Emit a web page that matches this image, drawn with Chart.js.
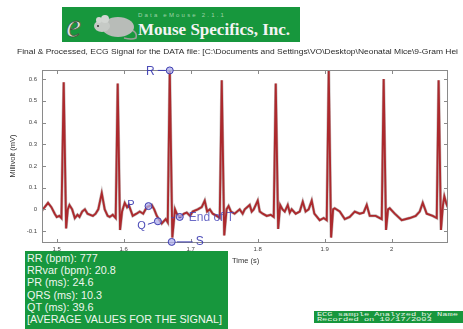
<!DOCTYPE html>
<html>
<head>
<meta charset="utf-8">
<script src="https://cdn.jsdelivr.net/npm/chart.js@4/dist/chart.umd.min.js"></script>
<style>
  body { margin: 0; background: #fff; }
  #wrap { position: relative; width: 463px; height: 329px; overflow: hidden; font-family: Arial, "Liberation Sans", sans-serif; }
  #ecg { position: absolute; left: 0; top: 0; }
  .logo { position: absolute; left: 62px; top: 7px; width: 238px; height: 35px; background: #17973d; }
  .logo .ver { position: absolute; left: 76px; top: 5px; font-size: 6px; color: #9ed3a8; letter-spacing: 2.2px; white-space: nowrap; }
  .logo .name { position: absolute; left: 76px; top: 13px; font-family: "Liberation Serif", "DejaVu Serif", serif; font-size: 17px; font-weight: bold; color: #f4f4f4; white-space: nowrap; }
  .info { position: absolute; left: 25px; top: 251px; width: 203px; height: 80px; background: #17973d; color: #eef6ee; font-size: 10.8px; line-height: 12.2px; padding: 1px 0 0 2px; box-sizing: border-box; white-space: nowrap; }
  .stamp { position: absolute; left: 314px; top: 311px; width: 149px; height: 12px; background: #17973d; overflow: hidden; }
  .stamp div { color: #e8f4e8; font-family: "Liberation Mono", "DejaVu Sans Mono", monospace; font-size: 6px; line-height: 5.5px; padding: 0.5px 0 0 2px; white-space: nowrap; transform: scale(1.45, 1); transform-origin: left top; }
</style>
</head>
<body>
<div id="wrap">
  <canvas id="ecg" width="463" height="329"></canvas>
  <div class="logo">
    <svg width="80" height="35" style="position:absolute;left:0;top:0">
      <text x="4" y="30" font-family="Liberation Serif, serif" font-style="italic" font-size="34" fill="#dfe5df" stroke="#3d5a3d" stroke-width="0.8">e</text>
      <path d="M66 22 Q76 24 74 31 Q70 33 62 31" stroke="#9aa09a" stroke-width="1.5" fill="none"/>
      <ellipse cx="56" cy="20" rx="16" ry="10" fill="#b8bcb8"/>
      <ellipse cx="40" cy="19" rx="8" ry="6" fill="#c6cac6"/>
      <circle cx="43" cy="12" r="4" fill="#d2d6d2"/>
      <circle cx="37" cy="13" r="3" fill="#d2d6d2"/>
      <circle cx="36" cy="19" r="1" fill="#333"/>
    </svg>
    <div class="ver">Data eMouse 2.1.1</div>
    <div class="name">Mouse Specifics, Inc.</div>
  </div>
  <div class="info">
    RR (bpm): 777<br>
    RRvar (bpm): 20.8<br>
    PR (ms): 24.6<br>
    QRS (ms): 10.3<br>
    QT (ms): 39.6<br>
    [AVERAGE VALUES FOR THE SIGNAL]
  </div>
  <div class="stamp"><div>ECG sample Analyzed by Name<br>Recorded on 10/17/2003</div></div>
</div>
<script>
// ECG trace: time (s) and signal (mV)
const times = [
  1.478, 1.482, 1.487, 1.492, 1.497, 1.500, 1.504, 1.507,
  1.5104, 1.514, 1.5165, 1.519, 1.523, 1.527, 1.531, 1.534, 1.538, 1.542, 1.546, 1.550, 1.554, 1.558, 1.562, 1.5672, 1.5716, 1.576, 1.5791, 1.5836, 1.588,
  1.591, 1.5945, 1.5975, 1.6015, 1.605, 1.6075, 1.6134, 1.619, 1.6239, 1.629, 1.6343, 1.6418, 1.6455, 1.6493, 1.6567, 1.6627, 1.6657,
  1.6687, 1.6725, 1.6765, 1.6791, 1.6836, 1.690, 1.694, 1.699, 1.703, 1.7104, 1.7164, 1.7209, 1.7245, 1.7285, 1.7328, 1.7388, 1.7433,
  1.7463, 1.750, 1.7535, 1.7565, 1.760, 1.7655, 1.7731, 1.7775, 1.7806, 1.788, 1.791, 1.794, 1.800, 1.803, 1.8075, 1.8134, 1.8194, 1.8239,
  1.8269, 1.8305, 1.8335, 1.837, 1.8403, 1.8448, 1.8478, 1.8507, 1.8567, 1.8627, 1.8672, 1.8715, 1.876, 1.8806, 1.8845, 1.8925, 1.8985, 1.903,
  1.906, 1.9095, 1.9125, 1.9149, 1.9224, 1.9299, 1.9373, 1.9448, 1.9522, 1.958, 1.9627, 1.9672, 1.9761, 1.9851,
  1.988, 1.9915, 1.9945, 1.997, 2.0045, 2.0149, 2.0269, 2.0358, 2.0418, 2.0463, 2.0522, 2.0612, 2.0672,
  2.070, 2.0735, 2.0765, 2.0785, 2.0812, 2.0836
];
const millivolts = [
  -0.005, 0.01, 0.03, 0.01, -0.02, -0.035, -0.03, -0.04,
  0.586, -0.088, 0.00, 0.02, 0.00, -0.04, -0.025, -0.035, -0.01, 0.00, -0.02, -0.025, -0.03, -0.02, 0.00, 0.075, 0.00, -0.03, -0.035, -0.025, -0.04,
  0.58, -0.095, -0.01, 0.03, 0.01, 0.02, -0.03, -0.02, -0.01, -0.02, 0.01, 0.02, 0.00, -0.03, -0.065, -0.045, -0.06,
  0.64, -0.13, 0.00, -0.02, -0.035, -0.02, -0.015, -0.03, -0.01, 0.00, 0.01, 0.04, -0.01, 0.00, -0.02, -0.03, -0.04,
  0.595, -0.12, 0.00, 0.015, -0.01, -0.02, 0.00, -0.02, 0.00, 0.02, -0.01, 0.00, 0.04, -0.01, -0.02, -0.03, -0.025, -0.035,
  0.58, -0.09, 0.02, 0.00, -0.01, 0.02, -0.015, 0.00, -0.02, -0.01, 0.035, -0.01, 0.00, 0.04, -0.02, -0.05, -0.04, -0.05,
  0.64, -0.13, 0.00, 0.005, -0.01, -0.045, -0.035, -0.01, -0.02, -0.015, 0.02, -0.03, -0.03, -0.045,
  0.60, -0.095, 0.00, 0.005, -0.02, -0.05, -0.04, -0.03, -0.01, 0.03, -0.02, -0.03, -0.04,
  0.595, -0.095, 0.02, 0.06, 0.03, 0.01
];

const xTicks = [1.5, 1.6, 1.7, 1.8, 1.9, 2];
const yTicks = [-0.1, 0, 0.1, 0.2, 0.3, 0.4, 0.5, 0.6];

// wave point markers on the third beat
const markNames = ['R', 'P', 'Q', 'S', 'End of T'];
const markTimes = [1.6687, 1.637, 1.651, 1.6716, 1.6836];
const markValues = [0.64, 0.015, -0.055, -0.15, -0.035];

const titleText = 'Final & Processed, ECG Signal for the DATA file: [C:\\Documents and Settings\\VO\\Desktop\\Neonatal Mice\\9-Gram Hei';

const points = times.map((t, i) => ({ x: t, y: millivolts[i] }));

const decorations = {
  id: 'decorations',
  afterDatasetsDraw(chart) {
    const ctx = chart.ctx;
    const a = chart.chartArea;
    const xs = chart.scales.x, ys = chart.scales.y;
    ctx.save();
    // box and inward ticks
    ctx.strokeStyle = '#8a8a8a';
    ctx.lineWidth = 1;
    ctx.strokeRect(a.left + 0.5, a.top + 0.5, a.right - a.left - 1, a.bottom - a.top - 1);
    ctx.beginPath();
    xTicks.forEach(v => {
      const px = Math.round(xs.getPixelForValue(v)) + 0.5;
      ctx.moveTo(px, a.bottom); ctx.lineTo(px, a.bottom - 4);
      ctx.moveTo(px, a.top); ctx.lineTo(px, a.top + 4);
    });
    yTicks.forEach(v => {
      const py = Math.round(ys.getPixelForValue(v)) + 0.5;
      ctx.moveTo(a.left, py); ctx.lineTo(a.left + 4, py);
      ctx.moveTo(a.right, py); ctx.lineTo(a.right - 4, py);
    });
    ctx.stroke();

    // markers
    const mp = markNames.map((n, i) => ({ x: xs.getPixelForValue(markTimes[i]), y: ys.getPixelForValue(markValues[i]) }));
    ctx.fillStyle = 'rgba(175,175,235,0.75)';
    ctx.strokeStyle = '#3d3db0';
    mp.forEach(p => {
      ctx.beginPath(); ctx.arc(p.x, p.y, 3.5, 0, Math.PI * 2); ctx.fill(); ctx.stroke();
    });
    ctx.fillStyle = 'rgba(55,55,175,0.9)';
    ctx.textBaseline = 'middle';
    // R
    ctx.font = '12px Arial';
    ctx.textAlign = 'right';
    ctx.fillText(markNames[0], mp[0].x - 15, mp[0].y + 1);
    ctx.beginPath(); ctx.moveTo(mp[0].x - 12, mp[0].y); ctx.lineTo(mp[0].x - 4, mp[0].y); ctx.stroke();
    // P
    ctx.font = '11px Arial';
    ctx.fillText(markNames[1], mp[1].x - 14, mp[1].y - 1);
    // Q
    ctx.fillText(markNames[2], mp[2].x - 12, mp[2].y + 5);
    ctx.beginPath(); ctx.moveTo(mp[2].x - 10, mp[2].y + 3); ctx.lineTo(mp[2].x - 4, mp[2].y + 1); ctx.stroke();
    // S
    ctx.textAlign = 'left';
    ctx.font = '12px Arial';
    ctx.fillText(markNames[3], mp[3].x + 24, mp[3].y);
    ctx.beginPath(); ctx.moveTo(mp[3].x + 21, mp[3].y); ctx.lineTo(mp[3].x + 5, mp[3].y); ctx.stroke();
    // End of T
    ctx.font = '12px Arial';
    ctx.fillStyle = 'rgba(70,70,185,0.8)';
    ctx.fillText('- -  ' + markNames[4], mp[4].x - 9, mp[4].y + 1);
    ctx.restore();
  },
  afterDraw(chart) {
    const ctx = chart.ctx;
    ctx.save();
    ctx.fillStyle = '#2a2a2a';
    ctx.font = '7px Arial';
    ctx.textAlign = 'left';
    ctx.textBaseline = 'middle';
    const w = ctx.measureText(titleText).width;
    ctx.save();
    ctx.translate(17, 52);
    ctx.scale(441 / w, 1);
    ctx.fillText(titleText, 0, 0);
    ctx.restore();
    ctx.fillStyle = '#333';
    ctx.font = '7.5px Arial';
    ctx.fillText('Time (s)', 232, 261);
    ctx.translate(13, 156);
    ctx.rotate(-Math.PI / 2);
    ctx.textAlign = 'center';
    ctx.fillText('Millivolt (mV)', 0, 0);
    ctx.restore();
  }
};

new Chart(document.getElementById('ecg'), {
  type: 'line',
  data: {
    datasets: [
      { data: points, borderColor: 'rgba(80,55,55,0.35)', borderWidth: 3, pointRadius: 0, tension: 0 },
      { data: points, borderColor: '#de2329', borderWidth: 1.9, pointRadius: 0, tension: 0 }
    ]
  },
  options: {
    responsive: false,
    animation: false,
    layout: { padding: { left: 0, top: 70, right: 15, bottom: 66 } },
    plugins: { legend: { display: false }, tooltip: { enabled: false } },
    scales: {
      x: {
        type: 'linear', min: 1.478, max: 2.084,
        afterFit: s => { s.height = 20; },
        afterBuildTicks: s => { s.ticks = xTicks.map(v => ({ value: v })); },
        grid: { display: false, drawTicks: false, tickLength: 0 },
        border: { display: false },
        ticks: { font: { size: 6, family: 'Arial' }, color: '#444', padding: 3, maxRotation: 0, callback: v => String(v) }
      },
      y: {
        min: -0.155, max: 0.642,
        afterFit: s => { s.width = 42; },
        afterBuildTicks: s => { s.ticks = yTicks.map(v => ({ value: v })); },
        grid: { display: false, drawTicks: false, tickLength: 0 },
        border: { display: false },
        ticks: { font: { size: 6, family: 'Arial' }, color: '#444', padding: 5, callback: v => String(v) }
      }
    }
  },
  plugins: [decorations]
});
</script>
</body>
</html>
